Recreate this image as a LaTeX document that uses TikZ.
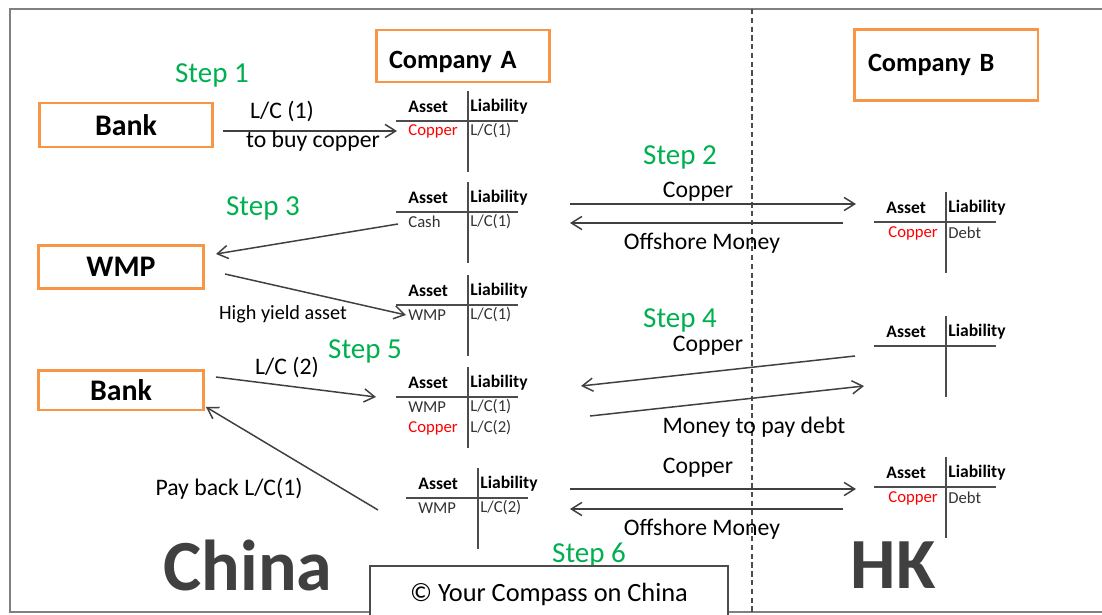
\documentclass[tikz,border=0pt]{standalone}
\usepackage{fontspec}
\setmainfont{Carlito}
\usepackage{tikz}
\usetikzlibrary{arrows.meta}

\definecolor{boxorange}{HTML}{F79646}
\definecolor{stepgreen}{HTML}{00B050}
\definecolor{cured}{HTML}{FF0000}

\begin{document}
\begin{tikzpicture}[x=0.02cm, y=-0.02cm,
	box/.style={draw=boxorange, line width=1.7pt, minimum width=3.3cm, minimum height=0.86cm, font=\fontsize{17}{20}\selectfont\bfseries},
	steplbl/.style={text=stepgreen, font=\fontsize{16.5}{20}\selectfont},
	head/.style={anchor=west, inner sep=0pt, font=\fontsize{10}{12}\selectfont\bfseries},
	cell/.style={anchor=west, inner sep=0pt, text=black!80, font=\fontsize{9.5}{11}\selectfont},
	lbl/.style={font=\fontsize{13.5}{16}\selectfont},
	flow/.style={draw=black!75, line width=0.85pt, -{Straight Barb[length=6pt,width=7.5pt]}},
	tline/.style={draw=black!70, line width=1pt},
	region/.style={text=black!75, font=\fontsize{41}{48}\selectfont\bfseries}]
	\useasboundingbox (0,0) rectangle (1102,615);
	% frame and border line
	\draw[gray, line width=1.5pt] (1102,9) -- (10,9) -- (10,612) -- (1102,612);
	\draw[black!70, line width=0.8pt, dash pattern=on 3pt off 2pt] (752,9) -- (752,615);

	% companies and counterparts
	\node[box, minimum width=3.48cm, minimum height=1.04cm, text width=2.96cm, inner xsep=0.26cm, text height=16pt, text depth=2pt, align=left, font=\fontsize{15}{18}\selectfont\bfseries] (compA) at (463,56) {Company A};
	\node[box, minimum width=3.68cm, minimum height=1.42cm, text width=3.12cm, inner xsep=0.28cm, align=left, font=\fontsize{15}{18}\selectfont\bfseries] (compB) at (946,65) {Company B};
	\node[box, minimum width=3.46cm, minimum height=0.88cm] (bank1) at (126,125) {Bank};
	\node[box] (wmp) at (121,267) {WMP};
	\node[box, minimum height=0.8cm] (bank2) at (121,390) {Bank};

	% T accounts
	\foreach \n/\x/\y in {a1/468/121, a2/468/212, a3/468/305, a4/468/397, a5/478/498, b1/946/222, b2/946/346, b3/946/487} {
		\coordinate (\n) at (\x,\y);
		\draw[tline] (\x,\y-30) -- (\x,\y+51);
		\draw[tline] (\x-72,\y) -- (\x+50,\y);
		\node[head] (\n-as) at (\x-60,\y-14) {Asset};
		\node[head] (\n-li) at (\x+2,\y-14) {Liability};
	}
	\node[cell, text=cured] (a1-r1) at (408,131) {Copper};
	\node[cell] (a1-l1) at (470,131) {L/C(1)};
	\node[cell] (a2-r1) at (408,222) {Cash};
	\node[cell] (a2-l1) at (470,222) {L/C(1)};
	\node[cell] (a3-r1) at (408,315) {WMP};
	\node[cell] (a3-l1) at (470,315) {L/C(1)};
	\node[cell] (a4-r1) at (408,407) {WMP};
	\node[cell] (a4-l1) at (470,407) {L/C(1)};
	\node[cell, text=cured] (a4-r2) at (408,428) {Copper};
	\node[cell] (a4-l2) at (470,428) {L/C(2)};
	\node[cell] (a5-r1) at (418,508) {WMP};
	\node[cell] (a5-l1) at (480,508) {L/C(2)};
	\node[cell, text=cured] (b1-r1) at (888,233) {Copper};
	\node[cell] (b1-l1) at (948,233) {Debt};
	\node[cell, text=cured] (b3-r1) at (888,498) {Copper};
	\node[cell] (b3-l1) at (948,498) {Debt};

	% steps
	\node[steplbl] (step1) at (212,75) {Step 1};
	\node[steplbl] (step2) at (680,157) {Step 2};
	\node[steplbl] (step3) at (263,208) {Step 3};
	\node[steplbl] (step4) at (680,320) {Step 4};
	\node[steplbl] (step5) at (365,351) {Step 5};
	\node[steplbl] (step6) at (589,555) {Step 6};

	% flows
	\draw[flow] ([shift={(9,6)}]bank1.east) -- ([shift={(-71,10)}]a1);
	\node[lbl] (lc1) at (282,111) {L/C (1)};
	\node[lbl] (buy) at (313,141) {to buy copper};

	\draw[flow] ([shift={(102,-8)}]a2) -- ([shift={(-90,-18)}]b1);
	\draw[flow] ([shift={(-103,1)}]b1) -- ([shift={(102,11)}]a2);
	\node[lbl] (cu2) at (698,192) {Copper};
	\node[lbl] (off2) at (702,243) {Offshore Money};

	\draw[flow] ([shift={(-70,12)}]a2) -- ([shift={(11,-13)}]wmp.east);
	\draw[flow] ([shift={(20,7)}]wmp.east) -- ([shift={(-62,10)}]a3);
	\node[font=\fontsize{11.5}{14}\selectfont] (hya) at (283,314) {High yield asset};

	\draw[flow] ([shift={(-91,10)}]b2) -- ([shift={(113,-11)}]a4);
	\draw[flow] ([shift={(122,19)}]a4) -- ([shift={(-82,40)}]b2);
	\node[lbl] (cu4) at (708,346) {Copper};
	\node[lbl] (mpd) at (754,427) {Money to pay debt};

	\draw[flow] ([shift={(11,-13)}]bank2.east) -- ([shift={(-92,0)}]a4);
	\node[lbl] (lc2) at (287,367) {L/C (2)};

	\draw[flow] ([shift={(-100,12)}]a5) -- ([shift={(1,17)}]bank2.east);
	\node[lbl] (pay) at (229,489) {Pay back L/C(1)};
	\draw[flow] ([shift={(92,-9)}]a5) -- ([shift={(-90,2)}]b3);
	\draw[flow] ([shift={(-103,22)}]b3) -- ([shift={(92,11)}]a5);
	\node[lbl] (cu6) at (698,468) {Copper};
	\node[lbl] (off6) at (702,529) {Offshore Money};

	% regions and credit
	\node[region] (china) at (248,565) {China};
	\node[region] (hk) at (893,565) {HK};
	\node[draw=black!70, fill=white, line width=0.8pt, minimum width=7.16cm, minimum height=1cm, text height=14pt, text depth=2pt, font=\fontsize{15}{18}\selectfont] (copy) at (549,591) {© Your Compass on China};
\end{tikzpicture}
\end{document}
